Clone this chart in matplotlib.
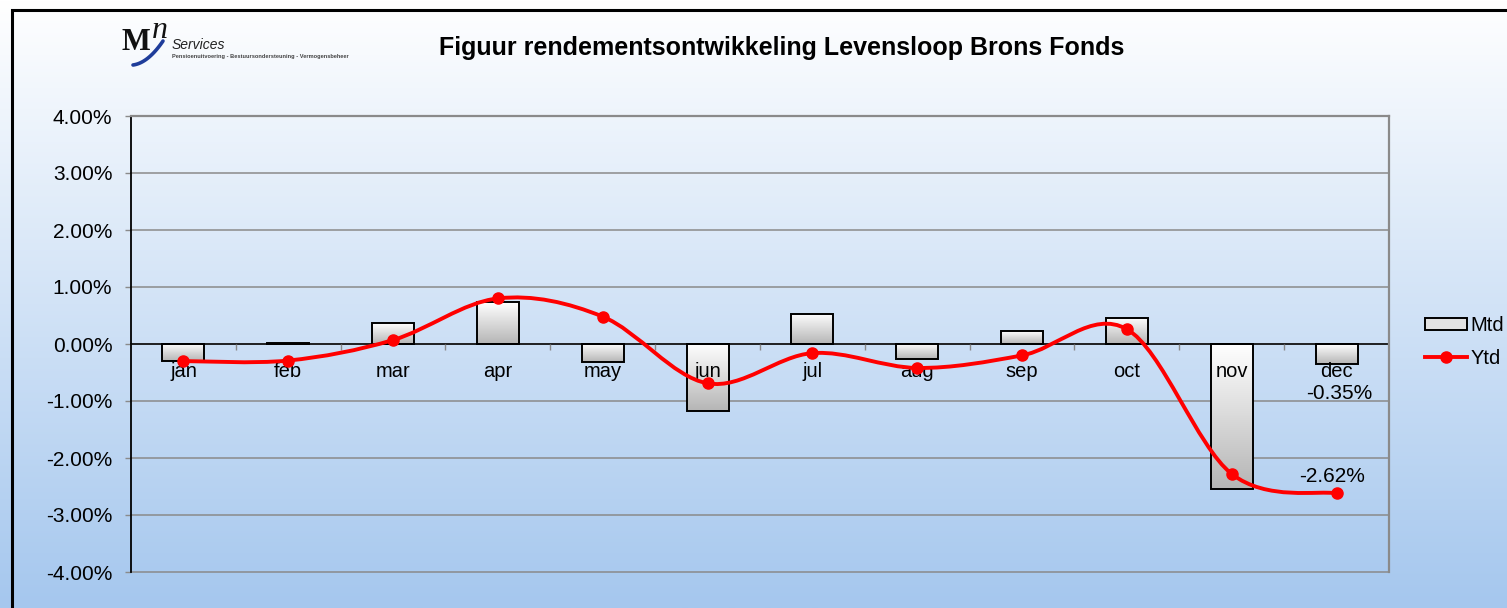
import matplotlib

matplotlib.use("Agg")
import matplotlib.pyplot as plt
import numpy as np
from matplotlib.colors import LinearSegmentedColormap
from matplotlib.lines import Line2D
from matplotlib.patches import Patch, PathPatch
from matplotlib.path import Path
from matplotlib.ticker import FixedLocator, FuncFormatter

plt.rcParams['font.family'] = ['Liberation Sans', 'DejaVu Sans']

# --- data -------------------------------------------------------------
months = ['jan', 'feb', 'mar', 'apr', 'may', 'jun',
          'jul', 'aug', 'sep', 'oct', 'nov', 'dec']
mtd = [-0.30, 0.01, 0.36, 0.73, -0.32, -1.18,
       0.53, -0.27, 0.22, 0.46, -2.54, -0.35]
ytd = [-0.30, -0.29, 0.07, 0.80, 0.48, -0.69,
       -0.16, -0.42, -0.20, 0.26, -2.28, -2.62]
y_ticks = [-4, -3, -2, -1, 0, 1, 2, 3, 4]
title = 'Figuur rendementsontwikkeling Levensloop Brons Fonds'

W, H = 1507, 608
fig = plt.figure(figsize=(W / 100, H / 100), dpi=100)

# --- background (figure-wide gradient, frame, logo) --------------------
bg = fig.add_axes([0, 0, 1, 1])
bg.set_zorder(-1)
bg.set_xlim(0, W)
bg.set_ylim(H, 0)
bg.axis('off')
bg_cmap = LinearSegmentedColormap.from_list('bg', ['#ffffff', '#a5c7ee'])
grad = np.linspace(0, 1, 256).reshape(-1, 1)
bg.imshow(grad, cmap=bg_cmap, extent=(0, W, H, 0), aspect='auto')
bg.plot([12, 12, W], [H, 10, 10], color='black', lw=2.2,
        solid_joinstyle='miter')

# logo
bg.text(121, 50, 'M', fontsize=22, fontweight='bold',
        family='Liberation Serif', color='#111111')
bg.text(152, 38, 'n', fontsize=23, style='italic',
        family='Liberation Serif', color='#111111')
t = np.linspace(0, 1, 40)
bg.plot(133 + 30 * t, 65 - 4 * t - 20 * t ** 2, color='#1f3d9a', lw=2.6,
        solid_capstyle='round')
bg.text(172, 49, 'Services', fontsize=10, style='italic', color='#222222')
bg.text(172, 58, 'Pensioenuitvoering - Bestuursondersteuning - '
        'Vermogensbeheer', fontsize=4.1, fontweight='bold',
        color='#444444')

fig.text(782 / W, 1 - 48 / H, title, ha='center', va='center',
         fontsize=18, fontweight='bold')

# --- main axes --------------------------------------------------------
ax = fig.add_axes([131 / W, 1 - 572 / H, (1389 - 131) / W, (572 - 116) / H])
ax.set_facecolor('none')
x = np.arange(len(months))

# gridlines below the bars
for v in y_ticks:
    ax.axhline(v, color='#8a8a8a', lw=1.1, zorder=0.5, clip_on=False)

bar_cmap = LinearSegmentedColormap.from_list('bar', ['#ffffff', '#b5b5b5'])
bars = ax.bar(x, mtd, width=0.4, facecolor='none', edgecolor='black',
              lw=1.4, zorder=1.2)
for rect, v in zip(bars, mtd):
    x0 = rect.get_x()
    x1 = x0 + rect.get_width()
    top, bottom = max(v, 0), min(v, 0)
    im = ax.imshow(grad, cmap=bar_cmap, extent=(x0, x1, bottom, top),
                   aspect='auto', zorder=1.1)
    im.set_clip_path(rect)

# smoothed Ytd line (Bezier through the points)
pts = np.column_stack([x, ytd]).astype(float)
n = len(pts)
verts = [pts[0]]
codes = [Path.MOVETO]
for i in range(n - 1):
    p0 = pts[max(i - 1, 0)]
    p1 = pts[i]
    p2 = pts[i + 1]
    p3 = pts[min(i + 2, n - 1)]
    verts += [p1 + (p2 - p0) / 6, p2 - (p3 - p1) / 6, p2]
    codes += [Path.CURVE4] * 3
ax.add_patch(PathPatch(Path(verts, codes), facecolor='none',
                       edgecolor='#ff0000', lw=2.8, zorder=3))
ax.plot(x, ytd, 'o', color='#ff0000', ms=8, zorder=3.1)

ax.set_xlim(-0.5, len(months) - 0.5)
ax.set_ylim(-4, 4)

# value axis
ax.yaxis.set_major_locator(FixedLocator(y_ticks))
ax.yaxis.set_major_formatter(FuncFormatter(lambda v, p: f'{v:.2f}%'))
ax.tick_params(axis='y', length=4.5, width=1, color='#8a8a8a', pad=9,
               labelsize=15)

# category axis through zero
ax.spines['bottom'].set_position(('data', 0))
ax.spines['bottom'].set_color('black')
ax.spines['bottom'].set_linewidth(1.1)
ax.spines['bottom'].set_zorder(1.3)
ax.spines['left'].set_color('black')
ax.spines['left'].set_linewidth(1.3)
for side in ['top', 'right']:
    ax.spines[side].set_color('#8a8a8a')
    ax.spines[side].set_linewidth(1.6)
ax.set_xticks(x)
ax.set_xticklabels(months)
ax.set_xticks(x[:-1] + 0.5, minor=True)
ax.tick_params(axis='x', which='major', length=0, pad=13, labelsize=14.5)
ax.tick_params(axis='x', which='minor', length=4.5, width=1,
               color='#8a8a8a')

# data labels for december
ax.annotate(f'{mtd[-1]:.2f}%', (x[-1], mtd[-1]), xytext=(2, -21),
            textcoords='offset points', ha='center', va='center',
            fontsize=15, zorder=4)
ax.annotate(f'{ytd[-1]:.2f}%', (x[-1], ytd[-1]), xytext=(-3, 12),
            textcoords='offset points', ha='center', va='center',
            fontsize=15, zorder=4)

# legend
handles = [
    Patch(facecolor='#e2e2e2', edgecolor='black', lw=1.4),
    Line2D([0], [0], color='#ff0000', lw=2.8, marker='o', ms=8),
]
fig.legend(handles, ['Mtd', 'Ytd'], loc='center left',
           bbox_to_anchor=(1425 / W, 1 - 342 / H), frameon=False,
           fontsize=14.5, handlelength=2.1, handleheight=0.55,
           handletextpad=0.15, labelspacing=0.7, borderpad=0,
           borderaxespad=0)

fig.savefig('out.png', dpi=100)
